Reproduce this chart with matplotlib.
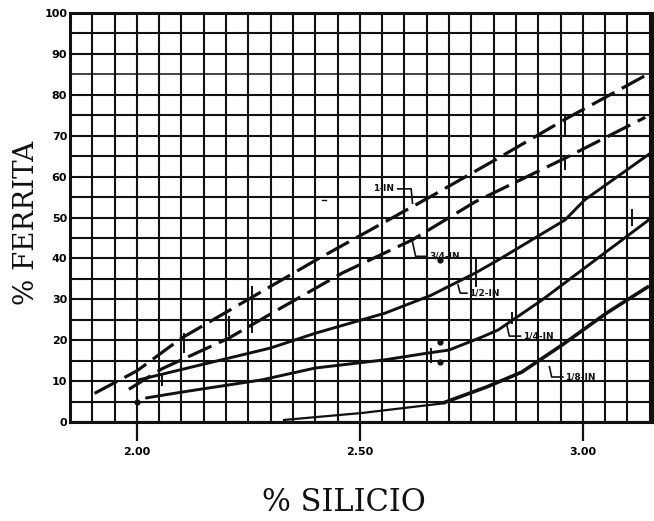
import matplotlib
matplotlib.use("Agg")
import matplotlib.pyplot as plt

# % Si vs % ferrite for several section sizes
si_1in = [1.905, 2.00, 2.10, 2.25, 2.40, 2.665, 2.81, 2.96, 3.145]
fe_1in = [7.0, 12.5, 20.5, 30.0, 39.5, 55.5, 64.5, 74.0, 85.0]

si_34in = [1.982, 2.056, 2.206, 2.325, 2.46, 2.617, 2.758, 2.96, 3.14]
fe_34in = [8.0, 13.0, 20.5, 28.0, 36.4, 44.5, 53.8, 64.5, 74.5]

si_12in = [2.004, 2.30, 2.40, 2.556, 2.66, 2.76, 2.81, 2.96, 3.004, 3.155]
fe_12in = [10.3, 18.1, 21.7, 26.6, 31.0, 36.5, 39.6, 49.4, 54.3, 66.0]

si_14in = [2.022, 2.10, 2.28, 2.40, 2.556, 2.655, 2.70, 2.774, 2.81, 2.908, 3.013, 3.155]
fe_14in = [5.9, 7.3, 10.3, 13.2, 15.2, 16.9, 17.6, 20.8, 22.5, 29.8, 38.4, 50.0]

si_18in = [2.33, 2.504, 2.69]
fe_18in = [0.5, 2.2, 4.6]
si_18in_b = [2.69, 2.785, 2.863, 2.953, 3.054, 3.145]
fe_18in_b = [4.8, 8.6, 12.2, 18.8, 26.7, 33.0]

curve_names = ["1-IN", "3/4-IN", "1/2-IN", "1/4-IN", "1/8-IN"]

# short vertical range marks on the curves
mark_x = [1.95, 2.056, 2.105, 2.206, 2.258, 2.40, 2.45, 2.60, 2.66, 2.70, 2.76, 2.84, 2.96, 2.96, 3.11]
mark_lo = [10.3, 8.7, 16.9, 21.1, 21.7, 35.0, 20.0, 47.0, 14.5, 50.5, 33.0, 24.0, 70.0, 61.5, 48.0]
mark_hi = [14.7, 11.5, 21.7, 26.0, 33.3, 40.0, 23.0, 50.0, 18.0, 55.0, 40.0, 27.0, 75.0, 64.5, 52.0]

dot_x = [2.68, 2.68, 2.68, 2.00]
dot_y = [39.6, 19.6, 14.7, 4.9]

x_ticks = [2.00, 2.50, 3.00]
x_tick_labels = ["2.00", "2.50", "3.00"]
y_ticks = [0, 10, 20, 30, 40, 50, 60, 70, 80, 90, 100]

INK = "#111111"

fig = plt.figure(figsize=(6.54, 5.21), dpi=100)
ax = fig.add_axes([70 / 654, 99 / 521, 582 / 654, 409 / 521])
ax.set_xlim(1.85, 3.155)
ax.set_ylim(0, 100)

# graph-paper grid
gx = [1.85 + 0.05 * i for i in range(27)]
for g in gx:
    ax.axvline(g, color=INK, lw=1.5, zorder=1)
for g in range(0, 101, 5):
    ax.axhline(g, color=INK, lw=(1.1 if g == 85 else 1.5), zorder=1)

dash = (0, (8, 2.6))
ax.plot(si_1in, fe_1in, color=INK, lw=2.3, ls=dash, zorder=3)
ax.plot(si_34in, fe_34in, color=INK, lw=2.3, ls=dash, zorder=3)
ax.plot(si_12in, fe_12in, color=INK, lw=2.1, zorder=3)
ax.plot(si_14in, fe_14in, color=INK, lw=2.1, zorder=3)
ax.plot(si_18in, fe_18in, color=INK, lw=1.6, zorder=3)
ax.plot(si_18in_b, fe_18in_b, color=INK, lw=2.6, zorder=3)

ax.vlines(mark_x, mark_lo, mark_hi, color=INK, lw=1.4, zorder=3)
ax.scatter(dot_x, dot_y, s=12, color=INK, zorder=4)

# curve labels with hooked leaders
lab = dict(fontsize=6.5, fontweight="bold", color=INK, va="center", ha="left", zorder=5)
ax.plot([2.585, 2.615, 2.618], [57.0, 57.0, 53.5], color=INK, lw=1.2, zorder=4)
ax.text(2.53, 57.0, curve_names[0], **lab)
ax.plot([2.618, 2.625, 2.65], [44.0, 40.5, 40.5], color=INK, lw=1.2, zorder=4)
ax.text(2.655, 40.5, curve_names[1], **lab)
ax.plot([2.72, 2.725, 2.74], [33.5, 31.5, 31.5], color=INK, lw=1.2, zorder=4)
ax.text(2.745, 31.5, curve_names[2], **lab)
ax.plot([2.83, 2.835, 2.86], [23.5, 21.0, 21.0], color=INK, lw=1.2, zorder=4)
ax.text(2.865, 21.0, curve_names[3], **lab)
ax.plot([2.925, 2.93, 2.955], [13.5, 11.0, 11.0], color=INK, lw=1.2, zorder=4)
ax.text(2.96, 11.0, curve_names[4], **lab)
ax.plot([2.415, 2.425], [54.3, 54.3], color=INK, lw=1.0)

for s in ax.spines.values():
    s.set_linewidth(2.2)
    s.set_color(INK)

ax.set_xticks(x_ticks)
ax.set_xticklabels(x_tick_labels, fontsize=8, fontweight="bold")
ax.set_yticks(y_ticks)
ax.set_yticklabels([str(v) for v in y_ticks], fontsize=8, fontweight="bold")
ax.tick_params(axis="x", length=14, width=1.6, color=INK, pad=4)
ax.tick_params(axis="y", length=0, pad=2)

fig.text(0.040, 0.572, "% FERRITA", rotation=90, ha="center", va="center",
         family="DejaVu Serif", fontsize=20, color=INK)
fig.text(0.526, 0.035, "% SILICIO", ha="center", va="center",
         family="DejaVu Serif", fontsize=22, color=INK)

fig.savefig("out.png", dpi=100, facecolor="white")
